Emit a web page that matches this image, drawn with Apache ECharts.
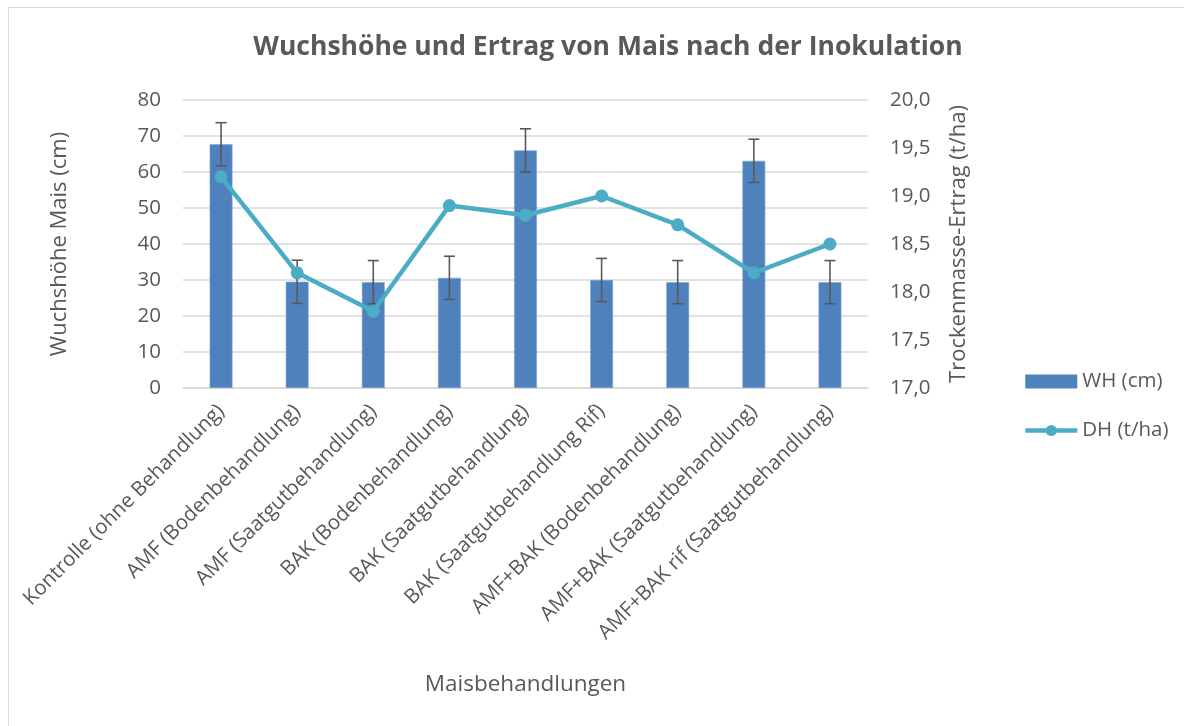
<!DOCTYPE html>
<html>
<head>
<meta charset="utf-8">
<script src="https://cdn.jsdelivr.net/npm/echarts@6/dist/echarts.min.js"></script>
<style>
  html, body { margin: 0; padding: 0; background: #fff; }
  #frame { position: absolute; left: 8px; top: 7px; width: 1190px; height: 740px; border: 1px solid #d9d9d9; box-sizing: border-box; }
  #chart { position: absolute; left: 0; top: 0; width: 1184px; height: 726px; }
</style>
</head>
<body>
<div id="frame"></div>
<div id="chart"></div>
<script>
// Treatments
const categories = [
  'Kontrolle (ohne Behandlung)',
  'AMF (Bodenbehandlung)',
  'AMF (Saatgutbehandlung)',
  'BAK (Bodenbehandlung)',
  'BAK (Saatgutbehandlung)',
  'BAK (Saatgutbehandlung Rif)',
  'AMF+BAK (Bodenbehandlung)',
  'AMF+BAK (Saatgutbehandlung)',
  'AMF+BAK rif (Saatgutbehandlung)'
];
// Plant height (cm) and its error
const whValues = [67.7, 29.5, 29.4, 30.6, 66.0, 30.0, 29.4, 63.1, 29.4];
const whError = [6, 6, 6, 6, 6, 6, 6, 6, 6];
// Dry matter yield (t/ha)
const dhValues = [19.2, 18.2, 17.8, 18.9, 18.8, 19.0, 18.7, 18.2, 18.5];

const FONT = 'Open Sans';
const GREY = '#595959';

const errorData = whValues.map((v, i) => [i, v - whError[i], v + whError[i]]);

const chart = echarts.init(document.getElementById('chart'));
chart.setOption({
  backgroundColor: 'transparent',
  animation: false,
  title: {
    text: 'Wuchshöhe und Ertrag von Mais nach der Inokulation',
    left: 603, top: 29, textAlign: 'center',
    textStyle: { fontFamily: FONT, fontSize: 26.5, fontWeight: 'bold', color: GREY }
  },
  legend: {
    orient: 'vertical', left: 1018, top: 366,
    itemWidth: 52, itemHeight: 14, itemGap: 28,
    data: [
      { name: 'WH (cm)', icon: 'rect', itemStyle: { borderWidth: 0 } },
      { name: 'DH (t/ha)' }
    ],
    lineStyle: { width: 4.5 },
    textStyle: { fontFamily: FONT, fontSize: 20.5, color: GREY }
  },
  grid: { left: 183, right: 316, top: 100, bottom: 338, containLabel: false },
  xAxis: {
    type: 'category', data: categories,
    name: 'Maisbehandlungen', nameLocation: 'middle', nameGap: 285,
    nameTextStyle: { fontFamily: FONT, fontSize: 22.5, color: GREY },
    axisLine: { lineStyle: { color: '#d9d9d9', width: 1.5 } },
    axisTick: { show: false },
    axisLabel: { rotate: 45, margin: 20, interval: 0, fontFamily: FONT, fontSize: 20.5, color: GREY }
  },
  yAxis: [
    {
      type: 'value', min: 0, max: 80, interval: 10,
      name: 'Wuchshöhe Mais (cm)', nameLocation: 'middle', nameGap: 112,
      nameTextStyle: { fontFamily: FONT, fontSize: 22, color: GREY },
      axisLine: { show: false }, axisTick: { show: false },
      axisLabel: { margin: 22, fontFamily: FONT, fontSize: 20.5, color: GREY },
      splitLine: { lineStyle: { color: '#d9d9d9', width: 1.5 } }
    },
    {
      type: 'value', min: 17, max: 20, interval: 0.5,
      name: 'Trockenmasse-Ertrag (t/ha)', nameLocation: 'middle', nameGap: 80,
      nameTextStyle: { fontFamily: FONT, fontSize: 22, color: GREY },
      axisLine: { show: false }, axisTick: { show: false },
      axisLabel: { margin: 22, fontFamily: FONT, fontSize: 20.5, color: GREY,
        formatter: v => v.toFixed(1).replace('.', ',') },
      splitLine: { show: false }
    }
  ],
  series: [
    {
      name: 'WH (cm)', type: 'bar', data: whValues, yAxisIndex: 0,
      barWidth: '30%',
      itemStyle: { color: '#4F81BD', borderColor: '#7FA2D0', borderWidth: 0.6 }
    },
    {
      name: 'WH-Fehler', type: 'custom', yAxisIndex: 0, data: errorData, z: 3,
      renderItem: (params, api) => {
        const lo = api.coord([api.value(0), api.value(1)]);
        const hi = api.coord([api.value(0), api.value(2)]);
        const half = 5.5;
        const style = { stroke: '#595959', lineWidth: 1.6 };
        return {
          type: 'group',
          children: [
            { type: 'line', shape: { x1: hi[0], y1: hi[1], x2: lo[0], y2: lo[1] }, style },
            { type: 'line', shape: { x1: hi[0] - half, y1: hi[1], x2: hi[0] + half, y2: hi[1] }, style },
            { type: 'line', shape: { x1: lo[0] - half, y1: lo[1], x2: lo[0] + half, y2: lo[1] }, style }
          ]
        };
      }
    },
    {
      name: 'DH (t/ha)', type: 'line', data: dhValues, yAxisIndex: 1, z: 4,
      symbol: 'circle', symbolSize: 13,
      lineStyle: { color: '#4BACC6', width: 4.5 },
      itemStyle: { color: '#4BACC6' }
    }
  ]
});
</script>
</body>
</html>
